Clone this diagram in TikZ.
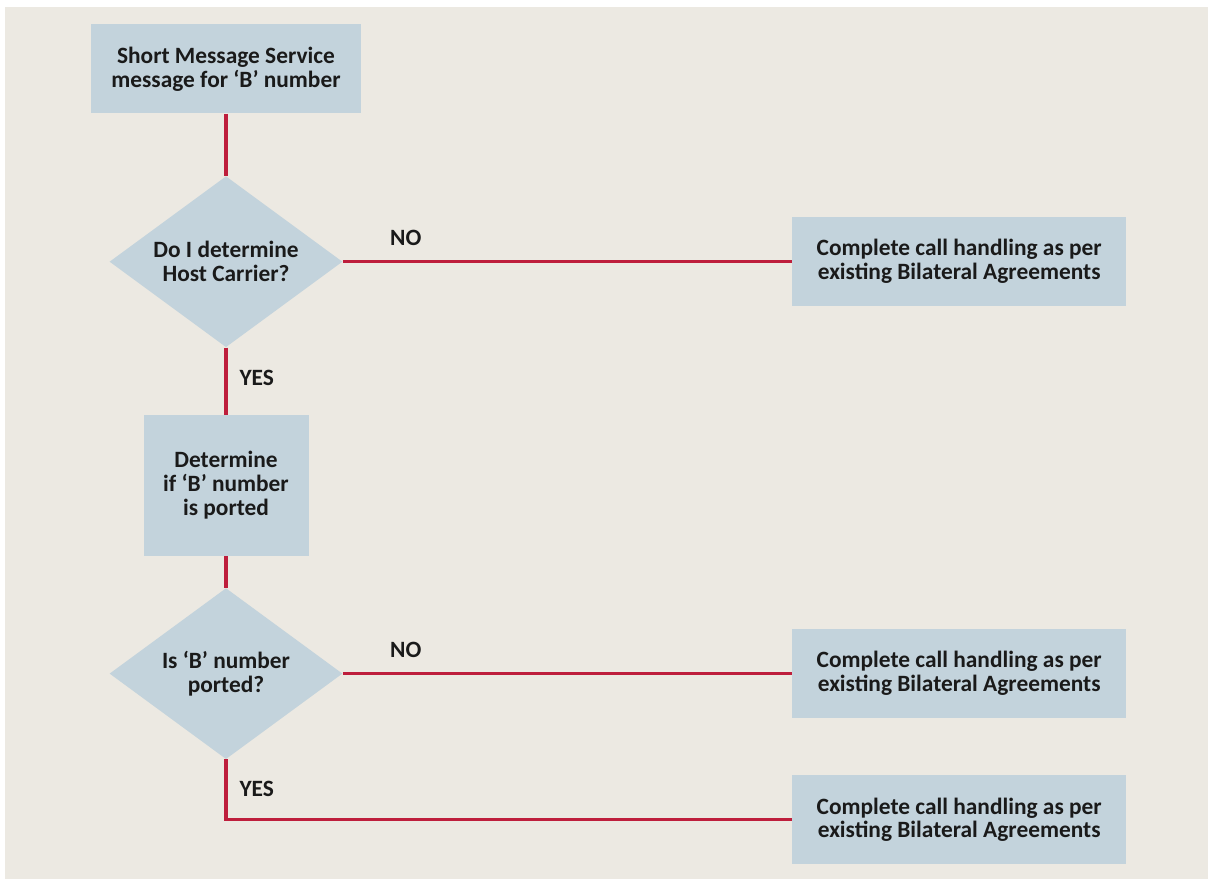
\documentclass[tikz,border=0pt]{standalone}
\usepackage{fontspec}
\setmainfont{Carlito}
\usepackage{xcolor}
\definecolor{cBack}{HTML}{ECE9E2}
\definecolor{cBox}{HTML}{C3D3DC}
\definecolor{cLine}{HTML}{BE1E3C}
\definecolor{cText}{HTML}{1A1A1A}
\usepackage{tikz}
\usetikzlibrary{positioning,shapes.geometric}
\tikzset{
  node-box/.style={fill=cBox,align=center,text=cText,inner sep=0pt,
    font=\bfseries\fontsize{13.3}{13.6}\selectfont},
  % the diamond text is set as a centre label so it cannot grow the shape
  node-decision/.style={fill=cBox,diamond,inner sep=0pt,minimum width=4.66cm,
    minimum height=3.42cm,label={[node-tag,align=center]center:#1}},
  node-wide/.style={node-box,minimum width=6.68cm,minimum height=1.78cm},
  node-tag/.style={font=\bfseries\fontsize{13.3}{13.6}\selectfont,text=cText,inner sep=0pt},
  line-flow/.style={draw=cLine,line width=1.8pt},
}

\begin{document}
\begin{tikzpicture}
  \useasboundingbox (0,0) rectangle (24.16,-17.58);
  \fill[cBack] (0.1,-0.14) rectangle (24.16,-17.58);

  \node[node-box,minimum width=5.4cm,minimum height=1.78cm] (sms) at (4.52,-1.38)
    {Short Message Service\\message for ‘B’ number};
  \node[node-decision={Do I determine\\Host Carrier?},below=1.24cm of sms] (host) {};
  \node[node-box,minimum width=3.3cm,minimum height=2.82cm,below=1.34cm of host] (det)
    {Determine\\if ‘B’ number\\is ported};
  \node[node-decision={Is ‘B’ number\\ported?},below=0.63cm of det] (port) {};
  \node[node-wide,right=8.98cm of host] (bil1) {Complete call handling as per\\existing Bilateral Agreements};
  \node[node-wide,right=8.98cm of port] (bil2) {Complete call handling as per\\existing Bilateral Agreements};
  \node[node-wide,below=1.13cm of bil2] (bil3) {Complete call handling as per\\existing Bilateral Agreements};

  \draw[line-flow] (sms) -- (host);
  \draw[line-flow] (host) -- node[node-tag,pos=0.14,above=0.28cm] (no1) {NO} (bil1);
  \draw[line-flow] (host) -- node[node-tag,anchor=west,xshift=0.24cm,pos=0.45] (yes1) {YES} (det);
  \draw[line-flow] (det) -- (port);
  \draw[line-flow] (port) -- node[node-tag,pos=0.14,above=0.28cm] (no2) {NO} (bil2);
  \draw[line-flow] (port.south) |- node[node-tag,anchor=west,xshift=0.24cm,pos=0.24] (yes2) {YES} (bil3.west);
\end{tikzpicture}
\end{document}
